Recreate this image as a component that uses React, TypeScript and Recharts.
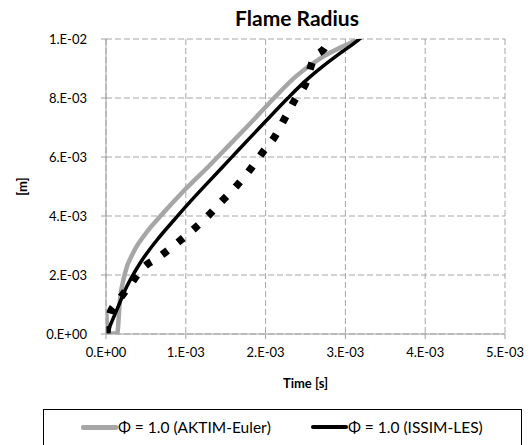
import { CartesianGrid, Line, LineChart, XAxis, YAxis } from 'recharts';

// time [s] / radius [m]
const aktimTime = [0.000005, 0.00002, 0.00014, 0.000175, 0.000238, 0.000342, 0.000509, 0.000717, 0.000967, 0.0013, 0.00155, 0.0018, 0.00203, 0.002387, 0.00272, 0.00305, 0.00317];
const aktimRadius = [0.0007, 0.00002, 0.00002, 0.00115, 0.00206, 0.00276, 0.00345, 0.0041, 0.00483, 0.00572, 0.00642, 0.00712, 0.00778, 0.00875, 0.0094, 0.00985, 0.01];

const issimTime = [0.00001, 0.000134, 0.000259, 0.000426, 0.000634, 0.000842, 0.00103, 0.0013, 0.00155, 0.0018, 0.002, 0.00228, 0.0025, 0.00272, 0.00295, 0.00314, 0.00322];
const issimRadius = [0.00002, 0.00081, 0.0016, 0.0024, 0.00317, 0.00383, 0.00441, 0.0052, 0.00592, 0.00664, 0.00721, 0.008, 0.00858, 0.00908, 0.00955, 0.00992, 0.0101];

// third series (dotted) - not in legend
const refTime = [0.00001, 0.00005, 0.000134, 0.0003, 0.000463, 0.000663, 0.000889, 0.001089, 0.001277, 0.001448, 0.001636, 0.001802, 0.001969, 0.002115, 0.00224, 0.002365, 0.00251, 0.002595, 0.00276, 0.0028];
const refRadius = [0.00002, 0.00071, 0.00105, 0.00166, 0.00224, 0.00261, 0.00308, 0.00353, 0.004, 0.00449, 0.00502, 0.00556, 0.00618, 0.00669, 0.00731, 0.00793, 0.00855, 0.00929, 0.0098, 0.0101];

const xTicks = [0, 0.001, 0.002, 0.003, 0.004, 0.005];
const yTicks = [0, 0.002, 0.004, 0.006, 0.008, 0.01];

const aktimData = aktimTime.map((t, i) => ({ t, r: aktimRadius[i] }));
const issimData = issimTime.map((t, i) => ({ t, r: issimRadius[i] }));
const refData = refTime.map((t, i) => ({ t, r: refRadius[i] }));

const font = 'Lato, "Liberation Sans", sans-serif';

// excel style "1.E-03"
function sci(v: number) {
  if (v === 0) return '0.E+00';
  const e = Math.floor(Math.log10(v) + 1e-9);
  const m = Math.round(v / Math.pow(10, e));
  const sign = e < 0 ? '-' : '+';
  return `${m}.E${sign}${String(Math.abs(e)).padStart(2, '0')}`;
}

// y tick labels sit further left than the default
function YTick(props: any) {
  const { x, y, payload } = props;
  return (
    <text x={x - 12} y={y} dy={4.5} textAnchor='end' fill='#000' style={{ fontSize: 13, fontFamily: font }}>
      {sci(payload.value)}
    </text>
  );
}

export default function App() {
  return (
    <div style={{ position: 'absolute', left: 0, top: 0, width: 531, height: 445, background: '#fff', fontFamily: font }}>
      <LineChart width={531} height={445} margin={{ top: 39, right: 26, bottom: 56, left: 0 }}>
        <text x={297} y={26} textAnchor='middle' style={{ fontSize: 21, fontWeight: 700, fontFamily: font }} fill='#000'>
          Flame Radius
        </text>
        <CartesianGrid stroke='#a6a6a6' strokeDasharray='6 3' />
        <XAxis
          type='number'
          dataKey='t'
          domain={[0, 0.005]}
          ticks={xTicks}
          tickFormatter={sci}
          allowDataOverflow
          height={55}
          stroke='#a0a0a0'
          tickSize={5}
          tickMargin={9}
          tick={{ fill: '#000', fontSize: 13, fontFamily: font }}
          label={{ value: 'Time [s]', position: 'insideBottom', offset: 1, style: { fontSize: 13, fontWeight: 700, fill: '#000', fontFamily: font } }}
        />
        <YAxis
          type='number'
          dataKey='r'
          domain={[0, 0.01]}
          ticks={yTicks}
          allowDataOverflow
          width={106}
          stroke='#a0a0a0'
          tickSize={5}
          tick={<YTick />}
          label={{ value: '[m]', angle: -90, position: 'insideLeft', offset: 22, style: { fontSize: 13, fontWeight: 700, fill: '#000', fontFamily: font, textAnchor: 'middle' } }}
        />
        <Line data={aktimData} dataKey='r' type='monotone' stroke='#a6a6a6' strokeWidth={4.5} dot={false} isAnimationActive={false} />
        <Line data={refData} dataKey='r' type='monotone' stroke='#000' strokeWidth={7.5} strokeDasharray='7 13' dot={false} isAnimationActive={false} />
        <Line data={issimData} dataKey='r' type='monotone' stroke='#000' strokeWidth={3.5} dot={false} isAnimationActive={false} />
      </LineChart>
      <div style={{ position: 'absolute', left: 43, top: 409, width: 479, height: 40, border: '1px solid #000', boxSizing: 'border-box', fontSize: 15.5 }}>
        <div style={{ position: 'absolute', left: 37, top: 8, display: 'flex', alignItems: 'center' }}>
          <span style={{ display: 'inline-block', width: 37, height: 5, background: '#a6a6a6', borderRadius: 2 }} />
          <span>Φ = 1.0 (AKTIM-Euler)</span>
        </div>
        <div style={{ position: 'absolute', left: 267, top: 8, display: 'flex', alignItems: 'center' }}>
          <span style={{ display: 'inline-block', width: 37, height: 4, background: '#000', borderRadius: 2 }} />
          <span>Φ = 1.0 (ISSIM-LES)</span>
        </div>
      </div>
    </div>
  );
}
